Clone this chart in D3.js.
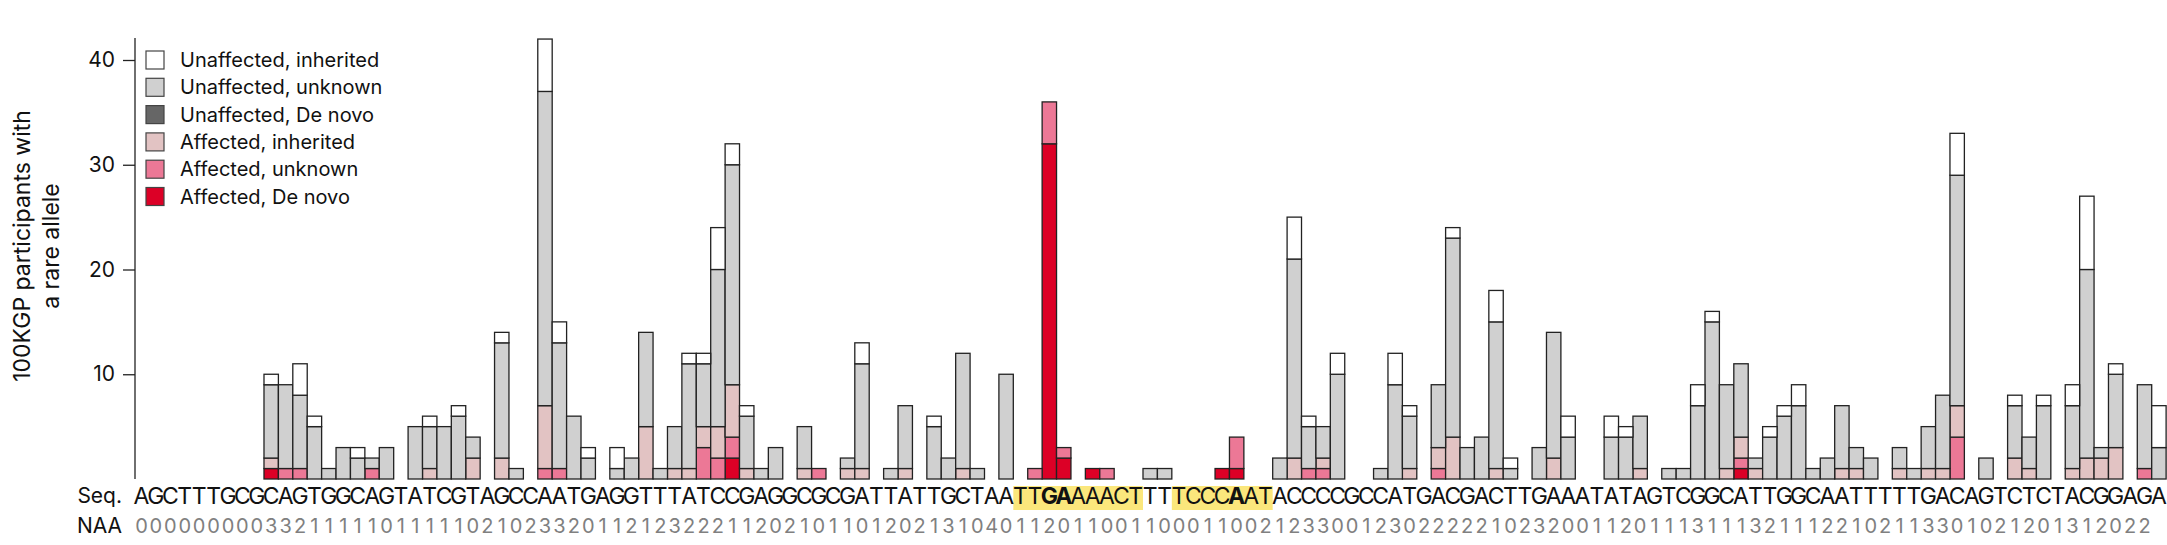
<!DOCTYPE html>
<html>
<head>
<meta charset="utf-8">
<script src="https://cdn.jsdelivr.net/npm/d3@7"></script>
<style>
  body { margin: 0; background: #fff; }
  text { font-family: Inter, "Noto Sans", sans-serif; }
</style>
</head>
<body>
<svg id="chart" width="2167" height="545"></svg>
<script>
// sequence and number of alternative alleles per base
const SEQ = 'AGCTTTGCGCAGTGGCAGTATCGTAGCCAATGAGGTTTATCCGAGGCGCGATTATTGCTAATTGAAAACTTTTCCCAATACCCCGCCATGACGACTTGAAATATAGTCGGCATTGGCAATTTTTGACAGTCTCTACGGAGA';
const NAA = '00000000033211111011111021023320112123222112021011012021310401120110011000110021233001230222221023200112011131113211122102113301021201312022';
const BOLD = [63, 64, 76];
const HIGHLIGHTS = [[61, 69], [72, 78]];

const KEYS = ['AD', 'AU', 'AI', 'UD', 'UU', 'UI'];
const LABELS = {
  UI: 'Unaffected, inherited', UU: 'Unaffected, unknown', UD: 'Unaffected, De novo',
  AI: 'Affected, inherited', AU: 'Affected, unknown', AD: 'Affected, De novo'
};
const COLORS = { UI: '#ffffff', UU: '#d0d0d0', UD: '#666666', AI: '#e2c3c3', AU: '#ec7896', AD: '#dc0026' };
const LEGEND_ORDER = ['UI', 'UU', 'UD', 'AI', 'AU', 'AD'];

// positions with at least one rare allele (index into SEQ)
const pos = [9,10,11,12,13,14,15,16,17,19,20,21,22,23,25,26,28,29,30,31,33,34,35,36,37,38,39,40,41,42,43,44,46,47,49,50,52,53,55,56,57,58,60,62,63,64,66,67,70,71,75,76,79,80,81,82,83,86,87,88,90,91,92,93,94,95,97,98,99,102,103,104,106,107,108,109,110,111,112,113,114,115,116,117,118,119,120,122,123,124,125,126,128,130,131,132,134,135,136,137,139,140];
const UI = [1,0,3,1,0,0,1,0,0,0,1,0,1,0,1,0,5,2,0,1,2,0,0,0,0,1,1,4,2,1,0,0,0,0,0,2,0,0,1,0,0,0,0,0,0,0,0,0,0,0,0,0,0,4,1,0,2,0,3,1,0,1,0,0,3,1,0,0,2,2,1,0,0,0,2,1,0,0,0,1,1,2,0,0,0,0,0,0,0,0,0,4,0,1,0,1,2,7,0,1,0,4];
const UU = [7,8,7,5,1,3,2,1,3,5,4,5,6,2,11,1,30,12,6,2,1,2,9,1,4,10,6,15,21,5,1,3,4,0,1,10,1,6,5,2,11,1,10,0,0,0,0,0,1,1,0,0,2,19,4,3,10,1,9,5,6,19,3,4,14,1,3,12,4,4,4,5,1,1,7,15,8,7,1,4,6,7,1,2,6,2,2,2,1,4,7,22,2,5,3,7,6,18,1,7,8,3];
const AI = [1,0,0,0,0,0,0,0,0,0,1,0,0,2,2,0,6,0,0,0,0,0,5,0,1,1,2,3,5,1,0,0,1,0,1,1,0,1,0,0,1,0,0,0,0,0,0,0,0,0,0,0,0,2,0,1,0,0,0,1,2,4,0,0,1,0,0,2,0,0,0,1,0,0,0,0,1,2,1,0,0,0,0,0,1,1,0,1,0,1,1,3,0,2,1,0,1,2,2,3,0,0];
const AU = [0,1,1,0,0,0,0,1,0,0,0,0,0,0,0,0,1,1,0,0,0,0,0,0,0,0,3,2,2,0,0,0,0,1,0,0,0,0,0,0,0,0,0,1,4,1,0,1,0,0,0,3,0,0,1,1,0,0,0,0,1,0,0,0,0,0,0,0,0,0,0,0,0,0,0,0,0,1,0,0,0,0,0,0,0,0,0,0,0,0,0,4,0,0,0,0,0,0,0,0,1,0];
const AD = [1,0,0,0,0,0,0,0,0,0,0,0,0,0,0,0,0,0,0,0,0,0,0,0,0,0,0,0,2,0,0,0,0,0,0,0,0,0,0,0,0,0,0,0,32,2,1,0,0,0,1,1,0,0,0,0,0,0,0,0,0,0,0,0,0,0,0,0,0,0,0,0,0,0,0,0,0,1,0,0,0,0,0,0,0,0,0,0,0,0,0,0,0,0,0,0,0,0,0,0,0,0];
const Y_TICKS = [10, 20, 30, 40];

const rows = pos.map((p, i) => ({ pos: p, UI: UI[i], UU: UU[i], UD: 0, AI: AI[i], AU: AU[i], AD: AD[i] }));

const svg = d3.select('#chart');
const x = d3.scaleBand().domain(d3.range(SEQ.length)).range([134.3, 134.3 + 14.41 * SEQ.length]).padding(0);
const y = d3.scaleLinear().domain([0, 40]).range([479, 60]);

// highlight boxes behind the sequence
svg.append('g').selectAll('rect').data(HIGHLIGHTS).join('rect')
  .attr('x', d => x(d[0]))
  .attr('width', d => x(d[1]) + x.bandwidth() - x(d[0]))
  .attr('y', 486).attr('height', 24)
  .attr('fill', '#fbe77c');

// stacked bars
const series = d3.stack().keys(KEYS)(rows);
svg.append('g').selectAll('g').data(series).join('g')
  .attr('fill', s => COLORS[s.key])
  .selectAll('rect').data(s => s.filter(d => d[1] > d[0])).join('rect')
  .attr('x', d => x(d.data.pos))
  .attr('width', x.bandwidth())
  .attr('y', d => y(d[1]))
  .attr('height', d => y(d[0]) - y(d[1]))
  .attr('stroke', '#222').attr('stroke-width', 1.3);

// y axis
const yAxis = svg.append('g').attr('transform', 'translate(135,0)')
  .call(d3.axisLeft(y).tickValues(Y_TICKS).tickSize(12).tickPadding(8));
yAxis.select('.domain').attr('d', `M0,${y(0)}V38`).attr('stroke', '#222').attr('stroke-width', 1.3);
yAxis.selectAll('.tick line').attr('stroke', '#222').attr('stroke-width', 1.3);
yAxis.selectAll('.tick text').attr('font-size', 21).attr('fill', '#111')
  .attr('font-family', 'Inter, "Noto Sans", sans-serif');

svg.append('text')
  .attr('transform', 'translate(30,246) rotate(-90)')
  .attr('text-anchor', 'middle').attr('font-size', 23).attr('fill', '#111')
  .selectAll('tspan').data(['100KGP participants with', 'a rare allele']).join('tspan')
  .attr('x', 0).attr('dy', (d, i) => i ? 29 : 0).text(d => d);

// legend
const leg = svg.append('g').selectAll('g').data(LEGEND_ORDER).join('g')
  .attr('transform', (d, i) => `translate(146,${51 + i * 27.3})`);
leg.append('rect').attr('width', 18).attr('height', 18)
  .attr('fill', d => COLORS[d]).attr('stroke', '#444').attr('stroke-width', 1.2);
leg.append('text').attr('x', 34).attr('y', 16).attr('font-size', 20).attr('fill', '#111')
  .text(d => LABELS[d]);

// sequence and NAA rows
svg.append('text').attr('x', 122).attr('y', 503).attr('text-anchor', 'end')
  .attr('font-size', 21).attr('fill', '#111').text('Seq.');
svg.append('text').attr('x', 122).attr('y', 533).attr('text-anchor', 'end')
  .attr('font-size', 21).attr('fill', '#111').text('NAA');

svg.append('g').selectAll('text').data(SEQ.split('')).join('text')
  .attr('x', (d, i) => x(i) + x.bandwidth() / 2).attr('y', 504)
  .attr('text-anchor', 'middle')
  .attr('font-family', '"Liberation Mono", monospace').attr('font-size', 23)
  .attr('font-weight', (d, i) => BOLD.includes(i) ? 'bold' : 'normal')
  .attr('fill', '#111').text(d => d);

svg.append('g').selectAll('text').data(NAA.split('')).join('text')
  .attr('x', (d, i) => x(i) + x.bandwidth() / 2).attr('y', 533)
  .attr('text-anchor', 'middle')
  .attr('font-family', '"DejaVu Sans", sans-serif').attr('font-size', 20)
  .attr('fill', '#808080').text(d => d);
</script>
</body>
</html>
